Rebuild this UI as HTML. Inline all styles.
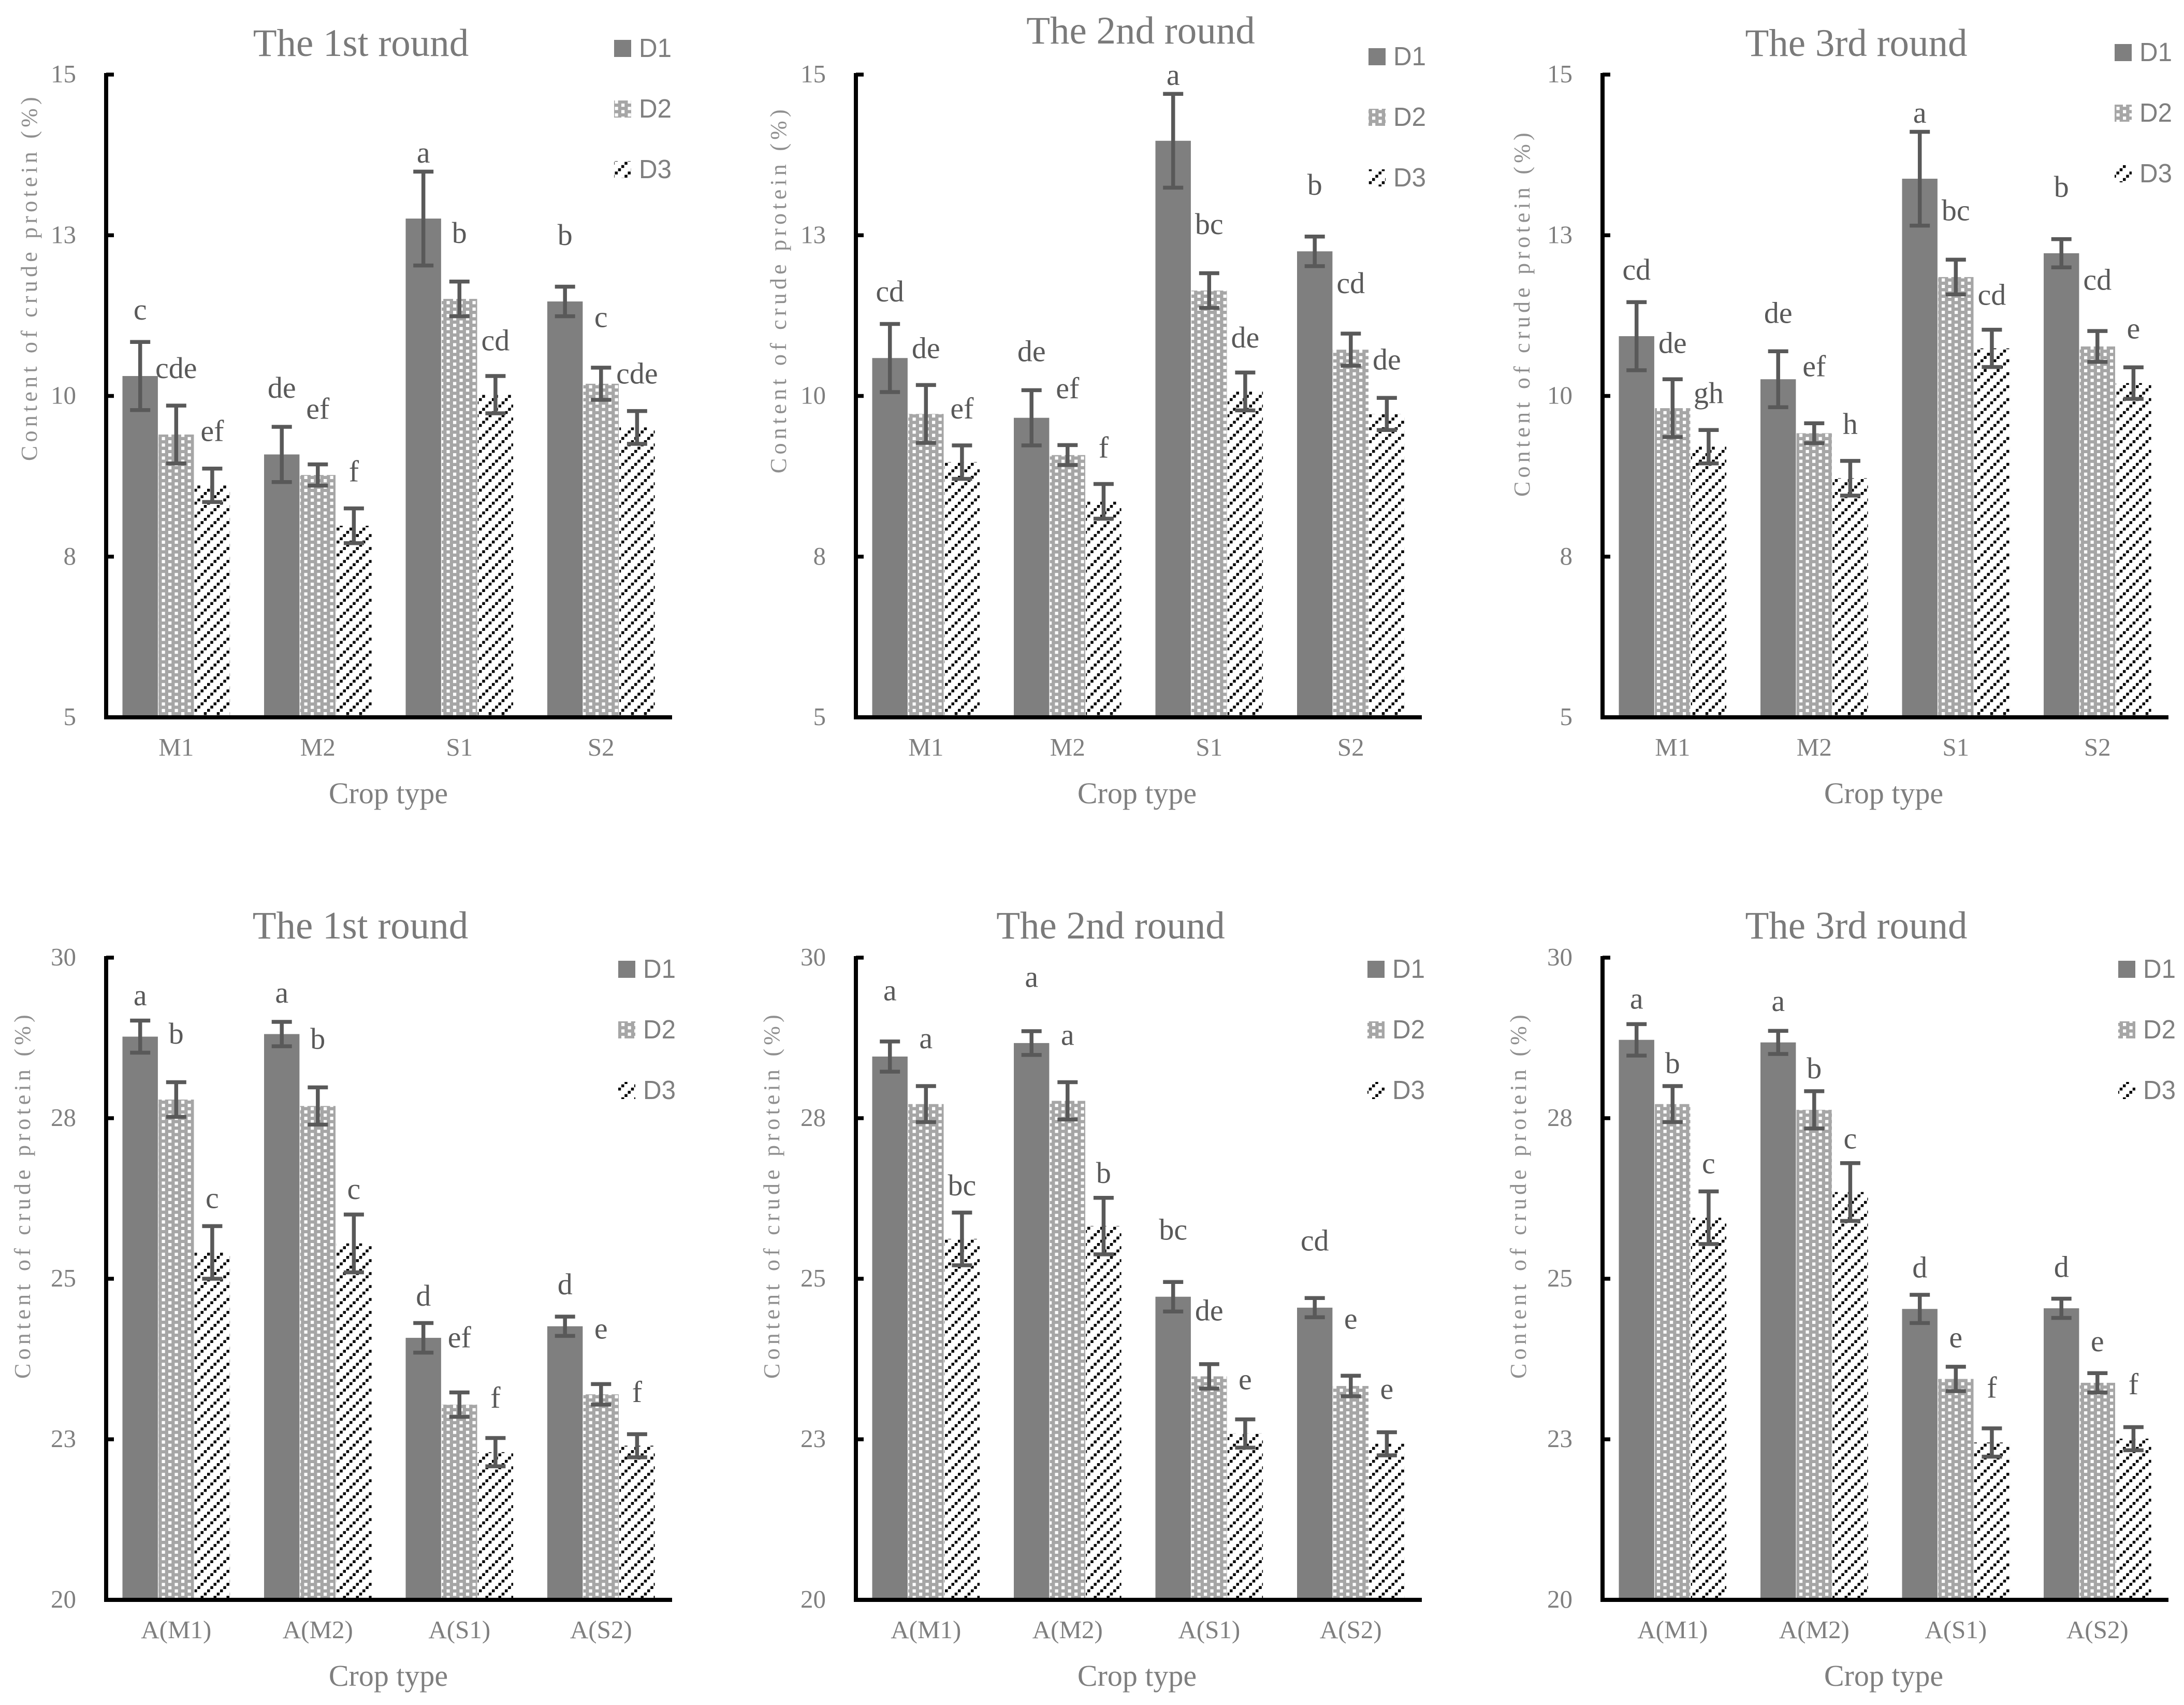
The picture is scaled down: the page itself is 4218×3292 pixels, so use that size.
<!DOCTYPE html>
<html lang="en">
<head>
<meta charset="utf-8">
<title>Content of crude protein by crop type</title>
<style>
html,body{margin:0;padding:0;background:#fff;}
#figure{display:block;width:4218px;height:3292px;}
text{font-family:"Liberation Serif","Noto Serif CJK SC",serif;}
</style>
</head>
<body>
<svg id="figure" xmlns="http://www.w3.org/2000/svg" width="4218" height="3292" viewBox="0 0 4218 3292">
<defs>
<pattern id="dots" patternUnits="userSpaceOnUse" width="25" height="12.5">
<rect width="25" height="12.5" fill="#a6a6a6"/>
<rect x="0" y="0" width="6.2" height="6.2" fill="#fff"/>
<rect x="12.5" y="6.25" width="6.2" height="6.2" fill="#fff"/>
</pattern>
<pattern id="hatch" patternUnits="userSpaceOnUse" width="25" height="25">
<rect width="25" height="25" fill="#fff"/>
<rect x="0" y="18.75" width="5.5" height="5.5" fill="#000"/>
<rect x="6.25" y="12.5" width="5.5" height="5.5" fill="#000"/>
<rect x="12.5" y="6.25" width="5.5" height="5.5" fill="#000"/>
<rect x="18.75" y="0" width="5.5" height="5.5" fill="#000"/>
</pattern>
</defs>
<g id="charts"></g>
</svg>
<script>
const topCategories = ["M1", "M2", "S1", "S2"];
const bottomCategories = ["A(M1)", "A(M2)", "A(S1)", "A(S2)"];
const topTickValues = [5, 7.5, 10, 12.5, 15];
const topTickLabels = ["5", "8", "10", "13", "15"];
const bottomTickValues = [20, 22.5, 25, 27.5, 30];
const bottomTickLabels = ["20", "23", "25", "28", "30"];
const seriesNames = ["D1", "D2", "D3"];

const top1D1 = [10.31, 9.09, 12.76, 11.47];
const top1D2 = [9.40, 8.77, 11.51, 10.19];
const top1D3 = [8.61, 7.98, 10.02, 9.51];
const top1E1 = [0.53, 0.43, 0.73, 0.23];
const top1E2 = [0.45, 0.165, 0.27, 0.25];
const top1E3 = [0.26, 0.27, 0.29, 0.255];
const top1Sig = [["c", "cde", "ef"], ["de", "ef", "f"], ["a", "b", "cd"], ["b", "c", "cde"]];
const top1Gap = [[0.35, 0.43, 0.43], [0.45, 0.71, 0.42], [0.14, 0.60, 0.40], [0.65, 0.63, 0.43]];

const top2D1 = [10.59, 9.66, 13.97, 12.25];
const top2D2 = [9.72, 9.08, 11.64, 10.72];
const top2D3 = [8.97, 8.36, 10.07, 9.72];
const top2E1 = [0.53, 0.43, 0.73, 0.23];
const top2E2 = [0.45, 0.155, 0.27, 0.25];
const top2E3 = [0.26, 0.27, 0.295, 0.25];
const top2Sig = [["cd", "de", "ef"], ["de", "ef", "f"], ["a", "bc", "de"], ["b", "cd", "de"]];
const top2Gap = [[0.35, 0.42, 0.42], [0.45, 0.73, 0.41], [0.14, 0.61, 0.39], [0.65, 0.63, 0.44]];

const top3D1 = [10.93, 10.26, 13.38, 12.22];
const top3D2 = [9.81, 9.42, 11.85, 10.77];
const top3D3 = [9.21, 8.72, 10.74, 10.20];
const top3E1 = [0.53, 0.435, 0.73, 0.22];
const top3E2 = [0.45, 0.155, 0.27, 0.24];
const top3E3 = [0.26, 0.27, 0.29, 0.245];
const top3Sig = [["cd", "de", "gh"], ["de", "ef", "h"], ["a", "bc", "cd"], ["b", "cd", "e"]];
const top3Gap = [[0.35, 0.41, 0.42], [0.44, 0.73, 0.42], [0.14, 0.61, 0.39], [0.66, 0.64, 0.45]];

const bot1D1 = [28.77, 28.81, 24.08, 24.26];
const bot1D2 = [27.79, 27.69, 23.04, 23.20];
const bot1D3 = [25.41, 25.55, 22.30, 22.40];
const bot1E1 = [0.25, 0.19, 0.23, 0.15];
const bot1E2 = [0.27, 0.29, 0.19, 0.16];
const bot1E3 = [0.41, 0.45, 0.22, 0.18];
const bot1Sig = [["a", "b", "c"], ["a", "b", "c"], ["d", "ef", "f"], ["d", "e", "f"]];
const bot1Gap = [[0.24, 0.60, 0.28], [0.30, 0.60, 0.24], [0.27, 0.70, 0.47], [0.35, 0.71, 0.50]];

const bot2D1 = [28.46, 28.67, 24.72, 24.55];
const bot2D2 = [27.72, 27.77, 23.48, 23.33];
const bot2D3 = [25.62, 25.82, 22.59, 22.43];
const bot2E1 = [0.235, 0.185, 0.23, 0.15];
const bot2E2 = [0.28, 0.29, 0.19, 0.16];
const bot2E3 = [0.41, 0.44, 0.22, 0.18];
const bot2Sig = [["a", "a", "bc"], ["a", "a", "b"], ["bc", "de", "e"], ["cd", "e", "e"]];
const bot2Gap = [[0.64, 0.59, 0.27], [0.69, 0.58, 0.23], [0.66, 0.68, 0.47], [0.74, 0.73, 0.52]];

const bot3D1 = [28.72, 28.68, 24.53, 24.54];
const bot3D2 = [27.72, 27.63, 23.44, 23.38];
const bot3D3 = [25.95, 26.35, 22.45, 22.51];
const bot3E1 = [0.245, 0.18, 0.22, 0.15];
const bot3E2 = [0.28, 0.29, 0.19, 0.15];
const bot3E3 = [0.41, 0.45, 0.22, 0.18];
const bot3Sig = [["a", "b", "c"], ["a", "b", "c"], ["d", "e", "f"], ["d", "e", "f"]];
const bot3Gap = [[0.24, 0.20, 0.28], [0.31, 0.20, 0.23], [0.27, 0.30, 0.48], [0.34, 0.34, 0.51]];

const NS = "http://www.w3.org/2000/svg";
const root = document.getElementById("charts");

function make(tag, attrs, parent, content) {
  const el = document.createElementNS(NS, tag);
  for (const k in attrs) el.setAttribute(k, attrs[k]);
  if (content !== undefined) el.textContent = content;
  parent.appendChild(el);
  return el;
}

function drawChart(cfg) {
  const g = make("g", {}, root);
  
  

  const span = cfg.domain[1] - cfg.domain[0];
  const yScale = function (v) { return cfg.bottom - (v - cfg.domain[0]) / span * (cfg.bottom - cfg.top); };
  const groupCenter = function (i) { return cfg.axisX + 135.3 + 273.5 * i; };
  const barCenter = function (i, s) { return groupCenter(i) + (s - 1) * 69.6; };
  const fills = ["#7f7f7f", "url(#dots)", "url(#hatch)"];
  const seriesValues = [cfg.d1, cfg.d2, cfg.d3];
  const seriesErrors = [cfg.e1, cfg.e2, cfg.e3];

  const title = make("text", { x: cfg.titleX, y: cfg.titleY, "text-anchor": "middle", "font-size": 75, fill: "#7a7a7a" }, g, cfg.title);
  
  

  cfg.categories.forEach(function (cat, i) {
    seriesValues.forEach(function (vals, s) {
      const yTop = yScale(vals[i]);
      const bar = make("rect", { x: barCenter(i, s) - 34.2, y: yTop, width: 68.4, height: cfg.bottom - yTop, fill: fills[s] }, g);
      
      
    });
  });

  cfg.categories.forEach(function (cat, i) {
    seriesValues.forEach(function (vals, s) {
      const cx = barCenter(i, s);
      const hi = yScale(vals[i] + seriesErrors[s][i]);
      const lo = yScale(vals[i] - seriesErrors[s][i]);
      const err = make("path", {
        d: "M" + cx + " " + hi + "V" + lo + "M" + (cx - 19.5) + " " + hi + "H" + (cx + 19.5) + "M" + (cx - 19.5) + " " + lo + "H" + (cx + 19.5),
        stroke: "#595959", "stroke-width": 7.5, fill: "none"
      }, g);
      
      
      const lab = make("text", { x: cx, y: yScale(vals[i] + seriesErrors[s][i] + cfg.gap[i][s]), "text-anchor": "middle", "font-size": 58, fill: "#595959" }, g, cfg.sig[i][s]);
      
      
    });
  });

  const yAxis = make("line", { x1: cfg.axisX, x2: cfg.axisX, y1: cfg.top - 3, y2: cfg.bottom + 4, stroke: "#000", "stroke-width": 8 }, g);
  
  
  const xAxis = make("line", { x1: cfg.axisX - 3, x2: cfg.axisX + 1093, y1: cfg.bottom, y2: cfg.bottom, stroke: "#000", "stroke-width": 8 }, g);
  
  

  cfg.ticks.forEach(function (t, i) {
    const ty = yScale(t);
    const tick = make("line", { x1: cfg.axisX, x2: cfg.axisX + 15, y1: ty, y2: ty, stroke: "#000", "stroke-width": 7.5 }, g);
    
    
    const lab = make("text", { x: cfg.axisX - 58, y: ty + 15, "text-anchor": "end", "font-size": 49, fill: "#7f7f7f" }, g, cfg.tickLabels[i]);
    
    
  });

  cfg.categories.forEach(function (cat, i) {
    const lab = make("text", { x: groupCenter(i), y: cfg.bottom + 74, "text-anchor": "middle", "font-size": 49, fill: "#7f7f7f" }, g, cat);
    
    
  });

  const xTitle = make("text", { x: cfg.xTitleX, y: cfg.bottom + 166, "text-anchor": "middle", "font-size": 58, fill: "#7f7f7f" }, g, "Crop type");
  
  

  const yTitle = make("text", {
    transform: "translate(" + cfg.yTitleX + " " + cfg.yTitleY + ") rotate(-90)",
    "font-size": 44, "letter-spacing": 7.2, fill: "#8f8f8f"
  }, g, "Content of crude protein (%)");
  
  

  seriesNames.forEach(function (name, s) {
    const ly = cfg.legendY + s * 117;
    const sw = make("rect", { x: cfg.legendX, y: ly, width: 33, height: 33, fill: fills[s] }, g);
    
    
    const tx = make("text", { x: cfg.legendX + 48, y: ly + 33, "font-size": 51, fill: "#7f7f7f", textLength: 63, lengthAdjust: "spacingAndGlyphs", style: 'font-family:"Liberation Sans",sans-serif' }, g, name);
    
    
  });
}

const topBase = { categories: topCategories, ticks: topTickValues, tickLabels: topTickLabels, domain: [5, 15], top: 144, bottom: 1385 };
const botBase = { categories: bottomCategories, ticks: bottomTickValues, tickLabels: bottomTickLabels, domain: [20, 30], top: 1849, bottom: 3089 };

drawChart(Object.assign({}, topBase, { id: "chart-top-round-1", title: "The 1st round", axisX: 205, xTitleX: 750, titleX: 697, titleY: 108, yTitleX: 71, yTitleY: 890, legendX: 1186, legendY: 77,
  d1: top1D1, d2: top1D2, d3: top1D3, e1: top1E1, e2: top1E2, e3: top1E3, sig: top1Sig, gap: top1Gap }));
drawChart(Object.assign({}, topBase, { id: "chart-top-round-2", title: "The 2nd round", axisX: 1653, xTitleX: 2196, titleX: 2203, titleY: 84, yTitleX: 1518, yTitleY: 914, legendX: 2643, legendY: 93,
  d1: top2D1, d2: top2D2, d3: top2D3, e1: top2E1, e2: top2E2, e3: top2E3, sig: top2Sig, gap: top2Gap }));
drawChart(Object.assign({}, topBase, { id: "chart-top-round-3", title: "The 3rd round", axisX: 3095, xTitleX: 3638, titleX: 3585, titleY: 108, yTitleX: 2954, yTitleY: 959, legendX: 4084, legendY: 85,
  d1: top3D1, d2: top3D2, d3: top3D3, e1: top3E1, e2: top3E2, e3: top3E3, sig: top3Sig, gap: top3Gap }));
drawChart(Object.assign({}, botBase, { id: "chart-bottom-round-1", title: "The 1st round", axisX: 205, xTitleX: 750, titleX: 696, titleY: 1812, yTitleX: 58, yTitleY: 2662, legendX: 1194, legendY: 1855,
  d1: bot1D1, d2: bot1D2, d3: bot1D3, e1: bot1E1, e2: bot1E2, e3: bot1E3, sig: bot1Sig, gap: bot1Gap }));
drawChart(Object.assign({}, botBase, { id: "chart-bottom-round-2", title: "The 2nd round", axisX: 1653, xTitleX: 2196, titleX: 2145, titleY: 1812, yTitleX: 1505, yTitleY: 2662, legendX: 2641, legendY: 1855,
  d1: bot2D1, d2: bot2D2, d3: bot2D3, e1: bot2E1, e2: bot2E2, e3: bot2E3, sig: bot2Sig, gap: bot2Gap }));
drawChart(Object.assign({}, botBase, { id: "chart-bottom-round-3", title: "The 3rd round", axisX: 3095, xTitleX: 3638, titleX: 3585, titleY: 1812, yTitleX: 2947, yTitleY: 2662, legendX: 4091, legendY: 1855,
  d1: bot3D1, d2: bot3D2, d3: bot3D3, e1: bot3E1, e2: bot3E2, e3: bot3E3, sig: bot3Sig, gap: bot3Gap }));
</script>
</body>
</html>
